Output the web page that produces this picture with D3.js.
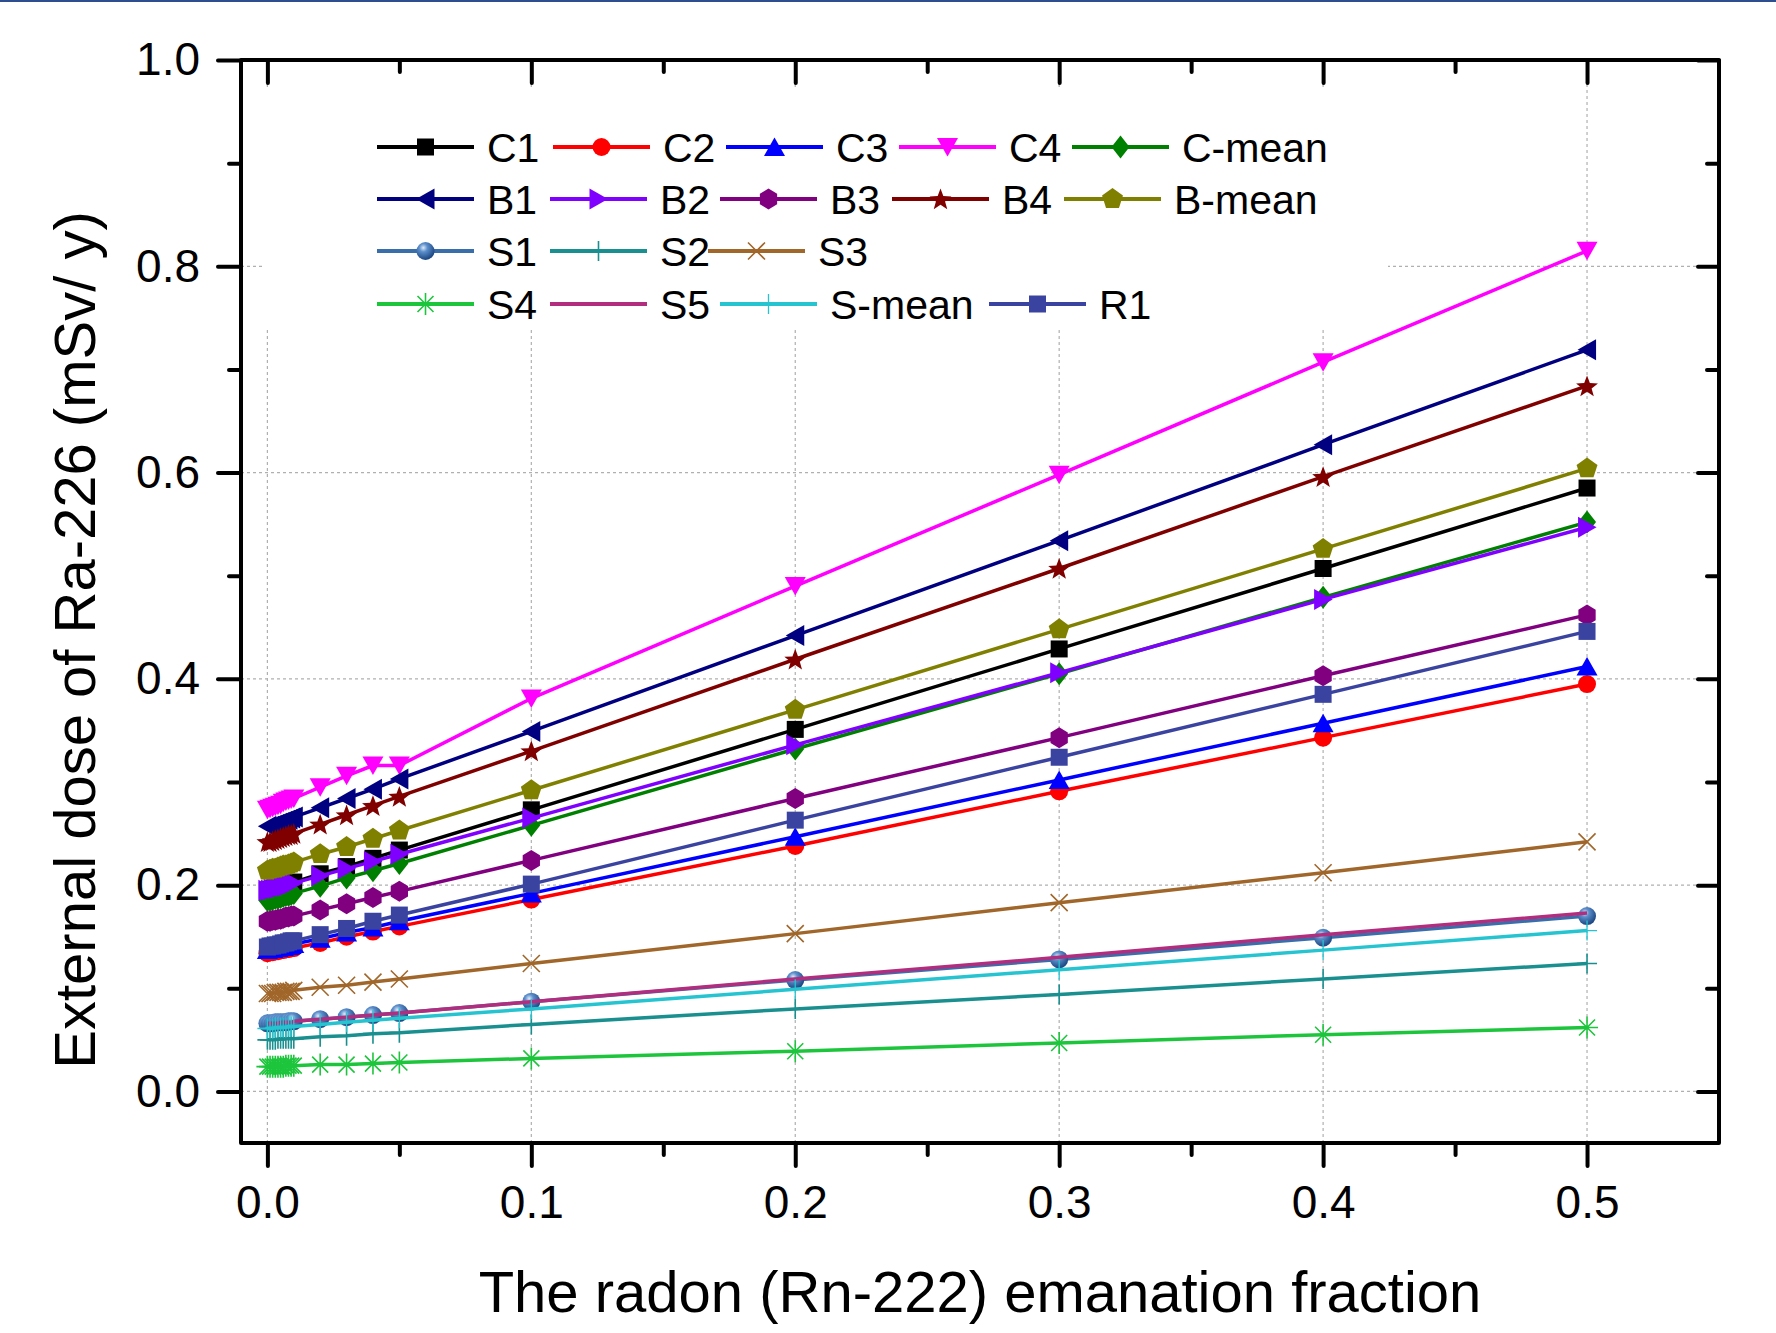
<!DOCTYPE html>
<html><head><meta charset="utf-8">
<script src="https://cdn.jsdelivr.net/npm/d3@7"></script>
<style>body{margin:0;background:#fff} svg{display:block}</style>
</head><body>
<svg id="chart" width="1776" height="1333"></svg>
<script>
// ---------------- data ----------------
const fractions = [0, 0.001, 0.002, 0.003, 0.004, 0.005, 0.006, 0.007, 0.008, 0.009, 0.01, 0.02, 0.03, 0.04, 0.05, 0.1, 0.2, 0.3, 0.4, 0.5];

const C1    = [0.195, 0.196, 0.197, 0.197, 0.198, 0.199, 0.200, 0.200, 0.201, 0.202, 0.203, 0.211, 0.218, 0.226, 0.234, 0.273, 0.351, 0.429, 0.507, 0.585];
const C2    = [0.134, 0.135, 0.135, 0.136, 0.136, 0.137, 0.137, 0.138, 0.138, 0.139, 0.139, 0.144, 0.150, 0.155, 0.160, 0.186, 0.238, 0.291, 0.343, 0.395];
const C3    = [0.137, 0.138, 0.138, 0.139, 0.139, 0.140, 0.140, 0.141, 0.141, 0.142, 0.143, 0.148, 0.154, 0.159, 0.165, 0.192, 0.247, 0.302, 0.357, 0.412];
const C4    = [0.273, 0.274, 0.275, 0.276, 0.277, 0.278, 0.280, 0.281, 0.282, 0.283, 0.284, 0.295, 0.306, 0.316, 0.316, 0.381, 0.490, 0.598, 0.707, 0.815];
const Cmean = [0.185, 0.185, 0.186, 0.187, 0.187, 0.188, 0.189, 0.190, 0.190, 0.191, 0.192, 0.199, 0.207, 0.214, 0.221, 0.258, 0.332, 0.405, 0.479, 0.552];
const B1    = [0.257, 0.257, 0.258, 0.259, 0.260, 0.261, 0.262, 0.263, 0.264, 0.265, 0.266, 0.275, 0.284, 0.293, 0.303, 0.349, 0.442, 0.534, 0.627, 0.719];
const B2    = [0.195, 0.195, 0.196, 0.197, 0.197, 0.198, 0.199, 0.199, 0.200, 0.201, 0.202, 0.209, 0.216, 0.223, 0.230, 0.265, 0.336, 0.406, 0.477, 0.547];
const B3    = [0.165, 0.165, 0.166, 0.166, 0.167, 0.167, 0.168, 0.169, 0.169, 0.170, 0.170, 0.176, 0.182, 0.188, 0.194, 0.224, 0.284, 0.343, 0.403, 0.462];
const B4    = [0.242, 0.242, 0.243, 0.244, 0.245, 0.246, 0.247, 0.248, 0.249, 0.249, 0.250, 0.259, 0.268, 0.277, 0.286, 0.330, 0.419, 0.507, 0.596, 0.684];
const Bmean = [0.214, 0.215, 0.216, 0.216, 0.217, 0.218, 0.219, 0.219, 0.220, 0.221, 0.222, 0.230, 0.237, 0.245, 0.253, 0.292, 0.370, 0.448, 0.526, 0.604];
const S1    = [0.066, 0.066, 0.066, 0.067, 0.067, 0.067, 0.067, 0.067, 0.068, 0.068, 0.068, 0.070, 0.072, 0.074, 0.076, 0.087, 0.108, 0.128, 0.149, 0.170];
const S2    = [0.050, 0.050, 0.050, 0.050, 0.051, 0.051, 0.051, 0.051, 0.051, 0.051, 0.051, 0.053, 0.054, 0.056, 0.057, 0.065, 0.080, 0.094, 0.109, 0.124];
const S3    = [0.095, 0.095, 0.095, 0.096, 0.096, 0.096, 0.096, 0.097, 0.097, 0.097, 0.098, 0.101, 0.103, 0.106, 0.109, 0.124, 0.153, 0.183, 0.212, 0.242];
const S4    = [0.024, 0.024, 0.024, 0.024, 0.024, 0.024, 0.024, 0.025, 0.025, 0.025, 0.025, 0.026, 0.026, 0.027, 0.028, 0.032, 0.039, 0.047, 0.055, 0.062];
const S5    = [0.066, 0.066, 0.066, 0.066, 0.066, 0.067, 0.067, 0.067, 0.067, 0.067, 0.068, 0.070, 0.072, 0.074, 0.076, 0.087, 0.109, 0.130, 0.152, 0.173];
const Smean = [0.061, 0.061, 0.061, 0.062, 0.062, 0.062, 0.062, 0.062, 0.063, 0.063, 0.063, 0.065, 0.067, 0.069, 0.071, 0.080, 0.099, 0.118, 0.137, 0.156];
const R1    = [0.140, 0.141, 0.141, 0.142, 0.142, 0.143, 0.144, 0.144, 0.145, 0.146, 0.146, 0.152, 0.158, 0.165, 0.171, 0.201, 0.263, 0.324, 0.385, 0.446];

const seriesNames = ["C1","C2","C3","C4","C-mean","B1","B2","B3","B4","B-mean","S1","S2","S3","S4","S5","S-mean","R1"];
const seriesValues = [C1, C2, C3, C4, Cmean, B1, B2, B3, B4, Bmean, S1, S2, S3, S4, S5, Smean, R1];

const xTicks = [0, 0.1, 0.2, 0.3, 0.4, 0.5];
const xMinorTicks = [0.05, 0.15, 0.25, 0.35, 0.45];
const yTicks = [0, 0.2, 0.4, 0.6, 0.8, 1.0];
const yMinorTicks = [0.1, 0.3, 0.5, 0.7, 0.9];

const xTitle = "The radon (Rn-222) emanation fraction";
const yTitle = "External dose of Ra-226 (mSv/ y)";

// ---------------- styles ----------------
const styles = {
  "C1":     {color:"#000000", marker:"square"},
  "C2":     {color:"#FF0000", marker:"circle"},
  "C3":     {color:"#0000FF", marker:"triUp"},
  "C4":     {color:"#FF00FF", marker:"triDown"},
  "C-mean": {color:"#008000", marker:"diamond"},
  "B1":     {color:"#000080", marker:"triLeft"},
  "B2":     {color:"#8000FF", marker:"triRight"},
  "B3":     {color:"#800080", marker:"hexagon"},
  "B4":     {color:"#800000", marker:"star"},
  "B-mean": {color:"#808000", marker:"pentagon"},
  "S1":     {color:"#3A6EAA", marker:"sphere"},
  "S2":     {color:"#1A8F8F", marker:"plus", mw:1.6},
  "S3":     {color:"#A0662A", marker:"cross", mw:1.6},
  "S4":     {color:"#1DC53C", marker:"asterisk", mw:1.6},
  "S5":     {color:"#B22D7D", marker:"none"},
  "S-mean": {color:"#26C4D0", marker:"plus", mw:1.3},
  "R1":     {color:"#3A44A0", marker:"square"}
};

const legendRows = [["C1","C2","C3","C4","C-mean"],["B1","B2","B3","B4","B-mean"],["S1","S2","S3"],["S4","S5","S-mean","R1"]];
const legendLineX = [[377,553,726,899,1072],[377,550,720,892,1064],[377,550,708],[377,550,720,989]];
const legendRowY = [147,199,251,304];

// ---------------- chart ----------------
const FONT = "'Liberation Sans', Arial, Helvetica, sans-serif";
const svg = d3.select("#chart");
const L = 241, R = 1719, T = 60, B = 1143;
const x = d3.scaleLinear().domain([-0.01, 0.55]).range([L, R]);
const y = d3.scaleLinear().domain([-0.05, 1.0]).range([B, T]);

// top blue rule
svg.append("line").attr("x1",0).attr("x2",1776).attr("y1",1).attr("y2",1)
  .attr("stroke","#2E4F8F").attr("stroke-width",2);

const defs = svg.append("defs");
const grad = defs.append("radialGradient").attr("id","sphere").attr("cx","38%").attr("cy","32%").attr("r","65%");
grad.append("stop").attr("offset","0%").attr("stop-color","#DDE9F7");
grad.append("stop").attr("offset","35%").attr("stop-color","#5C8FCC");
grad.append("stop").attr("offset","100%").attr("stop-color","#1F4A85");

// grid
const grid = svg.append("g");
grid.selectAll(".gx").data(xTicks).join("line")
  .attr("x1", d=>x(d)).attr("x2", d=>x(d)).attr("y1", T).attr("y2", B)
  .attr("stroke","#B0B0B0").attr("stroke-width",1.2).attr("stroke-dasharray","3,3");
grid.selectAll(".gy").data(yTicks).join("line")
  .attr("x1", L).attr("x2", R).attr("y1", d=>y(d)).attr("y2", d=>y(d))
  .attr("stroke","#B0B0B0").attr("stroke-width",1.2).attr("stroke-dasharray","3,3");

// legend background
svg.append("rect").attr("x",263).attr("y",87).attr("width",1125).attr("height",243).attr("fill","#fff");

// marker shapes
function markerPath(type){
  const pts = (n, r, rot, sx=1, sy=1) => d3.range(n).map(i=>{
    const a = rot + i*2*Math.PI/n; return [Math.cos(a)*r*sx, Math.sin(a)*r*sy];});
  const poly = p => "M" + p.map(q=>q[0].toFixed(2)+","+q[1].toFixed(2)).join("L") + "Z";
  switch(type){
    case "square": return "M-8.5,-8.5H8.5V8.5H-8.5Z";
    case "circle": case "sphere": return "M9,0A9,9 0 1,1 -9,0A9,9 0 1,1 9,0Z";
    case "triUp": return "M0,-9.5L10.5,9L-10.5,9Z";
    case "triDown": return "M-10.5,-9L10.5,-9L0,9.5Z";
    case "triLeft": return "M-9.5,0L9,-10.5L9,10.5Z";
    case "triRight": return "M9.5,0L-9,-10.5L-9,10.5Z";
    case "diamond": return "M0,-11.5L9,0L0,11.5L-9,0Z";
    case "hexagon": return poly(pts(6, 10.5, -Math.PI/2, 0.95, 1));
    case "pentagon": return poly(pts(5, 11, -Math.PI/2));
    case "star": {
      const p = d3.range(10).map(i=>{const r = i%2?4.8:11.5; const a = -Math.PI/2 + i*Math.PI/5; return [Math.cos(a)*r, Math.sin(a)*r+1];});
      return poly(p);
    }
    case "plus": return "M0,-10V10M-10,0H10";
    case "cross": return "M-8.5,-8.5L8.5,8.5M-8.5,8.5L8.5,-8.5";
    case "asterisk": return "M0,-11V11M-11,0H11M-8,-8L8,8M-8,8L8,-8";
  }
  return "";
}
const strokeMarkers = new Set(["plus","cross","asterisk"]);
function drawMarker(sel, name){
  const st = styles[name];
  if (st.marker === "none") return sel;
  const p = sel.append("path").attr("d", markerPath(st.marker));
  if (strokeMarkers.has(st.marker)) {
    p.attr("fill","none").attr("stroke", st.color).attr("stroke-width", st.mw || 1.5);
  } else if (st.marker === "sphere") {
    p.attr("fill","url(#sphere)");
  } else {
    p.attr("fill", st.color);
  }
  return sel;
}

// series
const line = d3.line().x(d=>x(d[0])).y(d=>y(d[1]));
const plot = svg.append("g");
seriesNames.forEach((name, i) => {
  const pts = fractions.map((f, j) => [f, seriesValues[i][j]]);
  const g = plot.append("g");
  g.append("path").datum(pts).attr("d", line).attr("fill","none")
    .attr("stroke", styles[name].color).attr("stroke-width", 3.5).attr("stroke-linejoin","round");
  g.selectAll("g.m").data(pts).join("g").attr("class","m")
    .attr("transform", d=>`translate(${x(d[0])},${y(d[1])})`)
    .each(function(){ drawMarker(d3.select(this), name); });
});

// axes
function styleAxis(g){
  g.select(".domain").remove();
  g.selectAll(".tick line").attr("stroke","#000").attr("stroke-width",4).attr("stroke-linecap","round");
  g.selectAll(".tick text").attr("font-family", FONT).attr("font-size", 46).attr("fill","#000");
}
svg.append("g").attr("transform",`translate(0,${B})`)
  .call(d3.axisBottom(x).tickValues(xTicks).tickSize(23).tickPadding(19).tickFormat(d3.format(".1f"))).call(styleAxis);
svg.append("g").attr("transform",`translate(0,${B})`)
  .call(d3.axisBottom(x).tickValues(xMinorTicks).tickSize(12).tickFormat("")).call(styleAxis);
svg.append("g").attr("transform",`translate(${L},0)`)
  .call(d3.axisLeft(y).tickValues(yTicks).tickSize(23).tickPadding(18).tickFormat(d3.format(".1f"))).call(styleAxis);
svg.append("g").attr("transform",`translate(${L},0)`)
  .call(d3.axisLeft(y).tickValues(yMinorTicks).tickSize(12).tickFormat("")).call(styleAxis);
svg.append("g").attr("transform",`translate(0,${T})`)
  .call(d3.axisTop(x).tickValues(xTicks).tickSize(-23).tickFormat("")).call(styleAxis);
svg.append("g").attr("transform",`translate(0,${T})`)
  .call(d3.axisTop(x).tickValues(xMinorTicks).tickSize(-12).tickFormat("")).call(styleAxis);
svg.append("g").attr("transform",`translate(${R},0)`)
  .call(d3.axisRight(y).tickValues(yTicks).tickSize(-21).tickFormat("")).call(styleAxis);
svg.append("g").attr("transform",`translate(${R},0)`)
  .call(d3.axisRight(y).tickValues(yMinorTicks).tickSize(-12).tickFormat("")).call(styleAxis);

// frame
svg.append("rect").attr("x",L).attr("y",T).attr("width",R-L).attr("height",B-T)
  .attr("fill","none").attr("stroke","#000").attr("stroke-width",4).attr("stroke-linejoin","round");

// titles
svg.append("text").attr("x",(L+R)/2).attr("y",1312).attr("text-anchor","middle")
  .attr("font-family",FONT).attr("font-size",58).attr("fill","#000").text(xTitle);
svg.append("text").attr("transform","translate(95,640) rotate(-90)").attr("text-anchor","middle")
  .attr("font-family",FONT).attr("font-size",58).attr("fill","#000").text(yTitle);

// legend
const lg = svg.append("g");
legendRows.forEach((row, r) => {
  row.forEach((name, k) => {
    const x0 = legendLineX[r][k], yy = legendRowY[r];
    const st = styles[name];
    lg.append("line").attr("x1",x0).attr("x2",x0+97).attr("y1",yy).attr("y2",yy)
      .attr("stroke",st.color).attr("stroke-width",4);
    drawMarker(lg.append("g").attr("transform",`translate(${x0+48.5},${yy})`), name);
    lg.append("text").attr("x",x0+110).attr("y",yy).attr("dy","0.36em")
      .attr("font-family",FONT).attr("font-size",41).attr("fill","#000").text(name);
  });
});
</script>
</body></html>
